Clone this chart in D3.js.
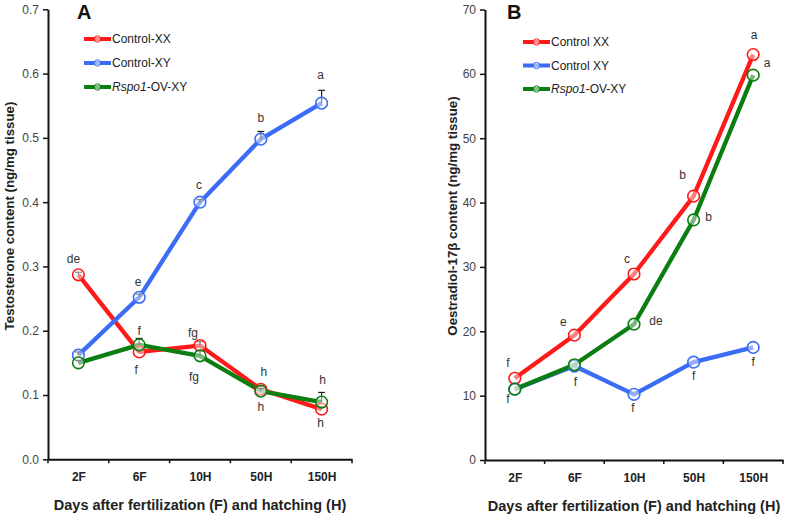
<!DOCTYPE html>
<html><head><meta charset="utf-8">
<script src="https://cdn.jsdelivr.net/npm/d3@7"></script>
<style>body{margin:0;background:#fff;} svg{display:block;font-family:"Liberation Sans",Arial,sans-serif;}</style>
</head><body>
<svg id="c" width="787" height="516"></svg>
<script>
const categories = ["2F","6F","10H","50H","150H"];
// Panel A: testosterone
const aXX = [0.287,0.167,0.177,0.109,0.078];
const aXY = [0.162,0.252,0.400,0.498,0.554];
const aOV = [0.150,0.178,0.161,0.106,0.089];
const aXXerr = [0.004,0.006,0.006,0.004,0.004];
const aXYerr = [0.005,0.005,0.004,0.012,0.020];
const aOVerr = [0.004,0.010,0.008,0.004,0.015];
const aXXlab = ["de","f","fg","h","h"];
const aXYlab = ["","e","c","b","a"];
const aOVlab = ["","f","fg","h","h"];
const aTicks = [0,0.1,0.2,0.3,0.4,0.5,0.6,0.7];
// Panel B: oestradiol
const bXX = [12.7,19.4,28.9,41.0,63.0];
const bXY = [11.0,14.6,10.2,15.2,17.5];
const bOV = [11.0,14.8,21.1,37.3,59.8];
const bXXlab = ["f","e","c","b","a"];
const bXYlab = ["","f","f","f","f"];
const bOVlab = ["f","","de","b","a"];
const bTicks = [0,10,20,30,40,50,60,70];

const RED="#ff1a1a", BLUE="#3b6cf6", GREEN="#0b7e12";
const svg = d3.select("#c");

function panel(opt){
  const g = svg.append("g");
  const x = d3.scalePoint().domain(categories).range(opt.xr).padding(0.5);
  const y = d3.scaleLinear().domain([0,opt.ymax]).range([opt.y0,opt.y1]);
  // y axis
  const ya = g.append("g").attr("transform",`translate(${opt.xr[0]},0)`)
    .call(d3.axisLeft(y).tickValues(opt.ticks).tickFormat(opt.fmt).tickSize(5).tickSizeOuter(0));
  ya.select(".domain").attr("stroke","#111").attr("stroke-width",2);
  ya.selectAll(".tick line").attr("stroke","#111").attr("stroke-width",1.5);
  ya.selectAll(".tick text").attr("font-size",12).attr("fill","#444").attr("font-family","Liberation Sans, Arial").attr("x",-9);
  // x axis
  const xa = g.append("g").attr("transform",`translate(0,${opt.y0})`)
    .call(d3.axisBottom(x).tickSize(0).tickPadding(13));
  xa.select(".domain").attr("stroke","#111").attr("stroke-width",2);
  xa.selectAll(".tick text").attr("font-size",12).attr("font-weight","bold").attr("fill","#222").attr("font-family","Liberation Sans, Arial");
  const step = x.step();
  const bounds = d3.range(categories.length+1).map(i=>opt.xr[0]+i*step);
  g.selectAll(".xt").data(bounds).join("line")
    .attr("x1",d=>d).attr("x2",d=>d).attr("y1",opt.y0).attr("y2",opt.y0+4)
    .attr("stroke","#111").attr("stroke-width",1.5);
  // titles
  g.append("text").attr("x",(opt.xr[0]+opt.xr[1])/2).attr("y",opt.y0+51)
    .attr("text-anchor","middle").attr("font-size",14.5).attr("font-weight","bold").attr("fill","#222")
    .text("Days after fertilization (F) and hatching (H)");
  g.append("text").attr("transform",`translate(${opt.ytx},${opt.yty}) rotate(-90)`)
    .attr("text-anchor","middle").attr("dominant-baseline","central").attr("font-size",13.3).attr("font-weight","bold").attr("fill","#222")
    .text(opt.ytitle);
  g.append("text").attr("x",opt.letter[0]).attr("y",opt.letter[1]).attr("font-size",20).attr("font-weight","bold").attr("fill","#111").text(opt.letterText);

  const line = d3.line().x((d,i)=>x(categories[i])).y(d=>y(d));
  opt.series.forEach(s=>{
    g.append("path").datum(s.v).attr("d",line).attr("fill","none").attr("stroke",s.c).attr("stroke-width",4.3).attr("stroke-linejoin","round");
  });
  opt.series.forEach(s=>{
    if(s.err){
      s.v.forEach((v,i)=>{
        if(s.err[i]<=0) return;
        const cx = x(categories[i]);
        g.append("line").attr("x1",cx).attr("x2",cx).attr("y1",y(v)).attr("y2",y(v+s.err[i])).attr("stroke","#222").attr("stroke-width",1.2);
        g.append("line").attr("x1",cx-3.5).attr("x2",cx+3.5).attr("y1",y(v+s.err[i])).attr("y2",y(v+s.err[i])).attr("stroke","#222").attr("stroke-width",1.2);
      });
    }
    g.selectAll(null).data(s.v).join("circle")
      .attr("cx",(d,i)=>x(categories[i])).attr("cy",d=>y(d)).attr("r",5.8)
      .attr("fill","rgba(255,255,255,0.45)").attr("stroke",s.c).attr("stroke-width",1.6);
  });
  // significance letters
  opt.series.forEach(s=>{
    s.lab.forEach((t,i)=>{
      if(!t) return;
      const o = s.off[i];
      g.append("text").attr("x",x(categories[i])+o[0]).attr("y",y(s.v[i])+o[1])
        .attr("text-anchor","middle").attr("font-size",12).attr("fill","#333").text(t);
    });
  });
  // legend
  opt.series.forEach((s,i)=>{
    const ly = opt.leg[1]+i*opt.legStep;
    g.append("line").attr("x1",opt.leg[0]).attr("x2",opt.leg[0]+27).attr("y1",ly).attr("y2",ly).attr("stroke",s.c).attr("stroke-width",4);
    g.append("circle").attr("cx",opt.leg[0]+13.5).attr("cy",ly).attr("r",3.2).attr("fill","rgba(255,255,255,0.5)").attr("stroke",s.c).attr("stroke-width",1);
    const t = g.append("text").attr("x",opt.leg[0]+28).attr("y",ly).attr("dominant-baseline","central").attr("font-size",12).attr("fill","#222");
    if(s.italic){ t.append("tspan").attr("font-style","italic").text(s.italic); t.append("tspan").text(s.name); }
    else t.text(s.name);
  });
}

panel({
  xr:[48,352], y0:459.3, y1:9.3, ymax:0.7, ticks:aTicks, fmt:d3.format(".1f"),
  ytitle:"Testosterone content (ng/mg tissue)", ytx:9, yty:216,
  letter:[77,18.5], letterText:"A", leg:[84,39], legStep:24,
  series:[
    {v:aXX,c:RED,err:aXXerr,lab:aXXlab,name:"Control-XX",off:[[-5,-12],[-3,22],[-7,-9],[3,-13],[-1,18]]},
    {v:aXY,c:BLUE,err:aXYerr,lab:aXYlab,name:"Control-XY",off:[[0,0],[-1,-11],[-1,-13],[0,-17],[-1,-24]]},
    {v:aOV,c:GREEN,err:aOVerr,lab:aOVlab,italic:"Rspo1",name:"-OV-XY",off:[[0,0],[0,-10],[-6,25],[0,20],[1,-18]]}
  ]
});
panel({
  xr:[485,783], y0:460, y1:9.5, ymax:70, ticks:bTicks, fmt:d3.format("d"),
  ytitle:"Oestradiol-17β content (ng/mg tissue)", ytx:452, yty:216,
  letter:[507,18.5], letterText:"B", leg:[523,42], legStep:23.5,
  series:[
    {v:bXX,c:RED,lab:bXXlab,name:"Control XX",off:[[-7,-11],[-11,-9],[-7,-11],[-11,-17],[1,-16]]},
    {v:bXY,c:BLUE,lab:bXYlab,name:"Control XY",off:[[0,0],[1,20],[-1,18],[0,18],[0,19]]},
    {v:bOV,c:GREEN,lab:bOVlab,italic:"Rspo1",name:"-OV-XY",off:[[-7,14],[0,0],[22,1],[15,1],[14,-8]]}
  ]
});
</script>
</body></html>
